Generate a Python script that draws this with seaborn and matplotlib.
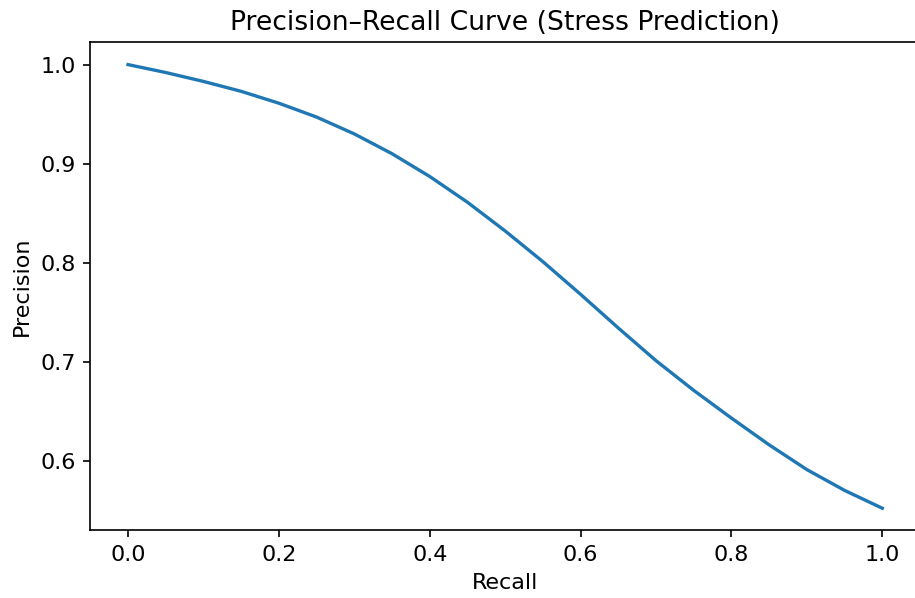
import matplotlib
matplotlib.use("Agg")
import matplotlib.pyplot as plt
import seaborn as sns
import pandas as pd

recall = [0.0, 0.05, 0.1, 0.15, 0.2, 0.25, 0.3, 0.35, 0.4, 0.45, 0.5,
          0.55, 0.6, 0.65, 0.7, 0.75, 0.8, 0.85, 0.9, 0.95, 1.0]
precision = [1.0, 0.992, 0.983, 0.973, 0.961, 0.947, 0.930, 0.910, 0.887, 0.861, 0.832,
             0.801, 0.768, 0.734, 0.701, 0.671, 0.643, 0.616, 0.591, 0.570, 0.552]

df = pd.DataFrame({"Recall": recall, "Precision": precision})

plt.rcParams["font.size"] = 10.7
plt.rcParams["axes.titlesize"] = 12.8
plt.rcParams["axes.labelsize"] = 10.7
plt.rcParams["xtick.labelsize"] = 10.7
plt.rcParams["ytick.labelsize"] = 10.7

fig, ax = plt.subplots(figsize=(6.1, 3.987), dpi=150)
fig.subplots_adjust(left=0.0987, right=1.0055, top=0.929, bottom=0.113)
sns.lineplot(data=df, x="Recall", y="Precision", ax=ax, color="#1f77b4", linewidth=1.6)
ax.set_title("Precision\u2013Recall Curve (Stress Prediction)")
ax.set_xlabel("Recall")
ax.set_ylabel("Precision")
fig.savefig("out.png", dpi=150)
